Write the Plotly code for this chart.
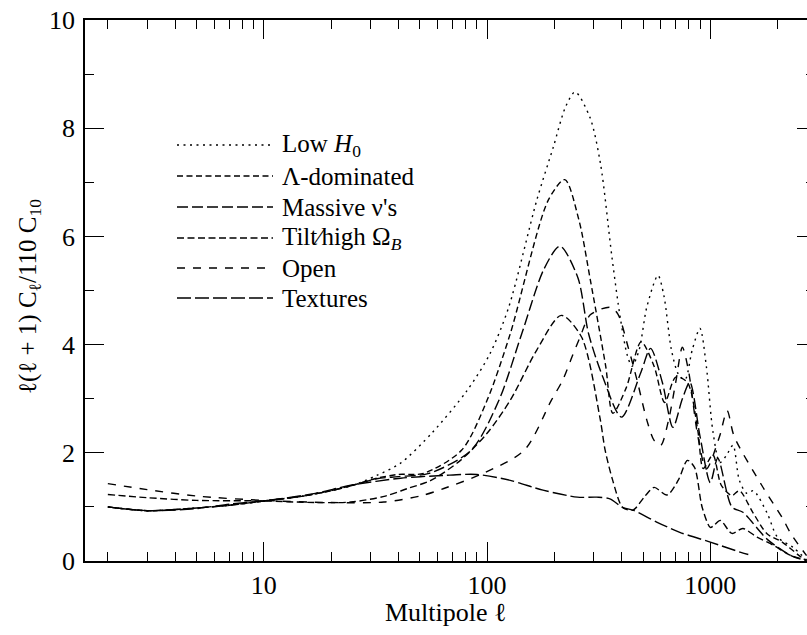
import plotly.graph_objects as go

# multipole values and normalised power
low_h0_l = [2, 3, 5, 7, 10, 15, 20, 25, 32, 41, 57, 81, 103, 125, 167, 198, 225, 248, 289, 322,
            363, 395, 425, 446, 480, 520, 583, 620, 670, 720, 770, 830, 899, 960, 1027, 1104,
            1180, 1264, 1350, 1460, 1560, 1800, 2000, 2350, 2700]
low_h0_v = [1.0, 0.93, 0.98, 1.03, 1.11, 1.2, 1.3, 1.4, 1.58, 1.81, 2.38, 3.14, 3.83, 4.69, 6.67,
            7.65, 8.4, 8.67, 8.2, 7.35, 5.6, 4.5, 3.8, 3.6, 3.9, 4.7, 5.28, 4.9, 3.9, 3.45, 3.35,
            3.9, 4.3, 3.6, 2.4, 1.82, 1.95, 2.14, 1.49, 1.25, 1.3, 0.88, 0.44, 0.25, 0.02]

lambda_l = [2, 3, 5, 7, 10, 15, 20, 25, 32, 40, 52, 77, 100, 127, 188, 223, 258, 290, 340, 366,
            420, 490, 560, 625, 700, 790, 880, 930, 1027, 1120, 1250, 1350, 1550, 1800, 2100,
            2500, 2700]
lambda_v = [1.0, 0.93, 0.98, 1.03, 1.11, 1.2, 1.3, 1.4, 1.53, 1.6, 1.62, 2.05, 2.97, 4.2, 6.67,
            7.05, 6.3, 5.2, 3.6, 2.73, 3.2, 4.05, 3.6, 2.93, 3.4, 3.3, 2.4, 1.71, 1.96, 1.4, 1.21,
            1.3, 0.9, 0.5, 0.35, 0.1, 0.0]

massive_l = [2, 3, 5, 7, 10, 15, 20, 25, 32, 40, 55, 85, 113, 143, 180, 212, 255, 285, 330, 400,
             490, 540, 610, 680, 750, 810, 900, 1000, 1080, 1250, 1400, 1800, 2300, 2700]
massive_v = [1.0, 0.93, 0.98, 1.03, 1.11, 1.2, 1.3, 1.4, 1.52, 1.56, 1.62, 2.05, 2.97, 4.2, 5.4,
             5.82, 5.24, 4.2, 3.4, 2.66, 3.5, 3.93, 3.3, 2.47, 3.0, 3.3, 2.3, 1.45, 1.9, 1.0, 0.9,
             0.4, 0.1, 0.0]

tilt_l = [2, 3, 5, 10, 17, 24.5, 35, 44, 56, 76, 100, 127, 167, 215, 265, 320, 338, 365, 405,
          450, 510, 560, 640, 720, 790, 850, 920, 1000, 1040, 1110, 1250, 1400, 1620, 1900, 2300,
          2700]
tilt_v = [1.23, 1.17, 1.12, 1.11, 1.08, 1.09, 1.2, 1.34, 1.49, 1.86, 2.36, 2.97, 3.9, 4.54, 4.14,
          2.66, 2.05, 1.5, 0.99, 0.94, 1.2, 1.36, 1.22, 1.5, 1.86, 1.73, 0.99, 0.62, 0.66, 0.75,
          0.51, 0.6, 0.44, 0.3, 0.1, 0.02]

open_l = [2, 3, 5, 10, 20, 34.5, 50, 64, 96, 147, 194, 218, 240, 260, 290, 356, 385, 430, 470,
          520, 560, 600, 650, 700, 750, 800, 880, 960, 1100, 1190, 1280, 1700, 2100, 2300, 2700]
open_v = [1.43, 1.32, 1.2, 1.12, 1.08, 1.09, 1.2, 1.34, 1.62, 2.05, 2.97, 3.34, 3.77, 4.12, 4.55,
          4.69, 4.57, 3.93, 3.34, 2.6, 2.23, 2.14, 2.6, 3.3, 3.95, 3.5, 2.3, 1.7, 2.3, 2.78, 2.3,
          1.4, 0.8, 0.5, 0.1]

tex_l = [2, 3, 5, 7, 10, 17, 24.5, 41, 63, 90, 127, 178, 254, 310, 355, 405, 450, 575, 730, 1000,
         1370, 1480]
tex_v = [1.0, 0.93, 0.97, 1.05, 1.11, 1.25, 1.4, 1.53, 1.58, 1.6, 1.49, 1.31, 1.18, 1.18, 1.15,
         0.99, 0.94, 0.72, 0.53, 0.35, 0.16, 0.12]

names = ["Low <i>H</i><sub>0</sub>", "Λ-dominated", "Massive ν's",
         "Tilt⁄high Ω<sub><i>B</i></sub>", "Open", "Textures"]
dashes = ["2px,4.5px", "6px,3.5px", "11px,4px", "7px,3.5px", "8px,8px", "14px,4px"]
series = [(low_h0_l, low_h0_v), (lambda_l, lambda_v), (massive_l, massive_v),
          (tilt_l, tilt_v), (open_l, open_v), (tex_l, tex_v)]

FONT = "Liberation Serif"
W, H = 807, 635
L, R, T, B = 85, 0, 20, 74
pw, ph = W - L - R, H - T - B


def px(x):
    # page pixel -> paper fraction
    return (x - L) / pw


def py(y):
    return (H - B - y) / ph


fig = go.Figure()
for (xs, ys), nm, dsh in zip(series, names, dashes):
    fig.add_trace(go.Scatter(
        x=xs, y=ys, mode="lines", name=nm,
        line=dict(color="black", width=1.4, dash=dsh, shape="spline", smoothing=0.8),
        showlegend=False,
    ))

# hand-made legend (longer line samples than plotly's)
rows = [145, 176, 207, 238, 268, 298]
for nm, dsh, yy in zip(names, dashes, rows):
    fig.add_shape(type="line", xref="paper", yref="paper",
                  x0=px(177), x1=px(273), y0=py(yy), y1=py(yy),
                  line=dict(color="black", width=1.4, dash=dsh))
    fig.add_annotation(text=nm, xref="paper", yref="paper", x=px(280), y=py(yy),
                       xanchor="left", yanchor="middle", showarrow=False,
                       font=dict(family=FONT, size=25, color="black"))

fig.add_annotation(text="Multipole ℓ", xref="paper", yref="paper",
                   x=px(446), y=py(612), xanchor="center", yanchor="middle",
                   showarrow=False, font=dict(family=FONT, size=26, color="black"))
fig.add_annotation(text="ℓ(ℓ + 1) C<sub>ℓ</sub>/110 C<sub>10</sub>", xref="paper",
                   yref="paper", x=px(29), y=py(297), textangle=-90,
                   xanchor="center", yanchor="middle", showarrow=False,
                   font=dict(family=FONT, size=25, color="black"))

minor_x = [2, 3, 4, 5, 6, 7, 8, 9, 20, 30, 40, 50, 60, 70, 80, 90,
           200, 300, 400, 500, 600, 700, 800, 900, 2000]

fig.update_layout(
    width=W, height=H,
    margin=dict(l=L, r=R, t=T, b=B, autoexpand=False),
    paper_bgcolor="white", plot_bgcolor="white",
    font=dict(family=FONT, size=26, color="black"),
    xaxis=dict(type="log", range=[0.1987, 3.4333], showgrid=False, zeroline=False,
               automargin=False,
               showline=True, linecolor="black", linewidth=1.5, mirror="ticks",
               ticks="inside", ticklen=19, tickwidth=1.2, tickcolor="black",
               tickmode="array", tickvals=[10, 100, 1000], ticktext=["10", "100", "1000"],
               ticklabelstandoff=0,
               minor=dict(ticks="inside", ticklen=9, tickwidth=1.2, tickcolor="black",
                          tickmode="array", tickvals=minor_x, showgrid=False)),
    yaxis=dict(range=[0, 10], showgrid=False, zeroline=False, automargin=False,
               showline=True, linecolor="black", linewidth=1.5,
               ticks="inside", ticklen=19, tickwidth=1.2, tickcolor="black",
               tickmode="array", tickvals=[0, 2, 4, 6, 8, 10],
               ticklabelstandoff=3,
               minor=dict(ticks="inside", ticklen=9, tickwidth=1.2, tickcolor="black",
                          tickmode="array", tickvals=[1, 3, 5, 7, 9], showgrid=False)),
    yaxis2=dict(range=[0, 10], overlaying="y", side="right", showgrid=False,
                zeroline=False, showline=False, showticklabels=False, automargin=False,
                ticks="inside", ticklen=10, tickwidth=1.2, tickcolor="black",
                tickmode="array", tickvals=[2, 4, 6, 8],
                minor=dict(ticks="inside", ticklen=1, tickwidth=1.2, tickcolor="black",
                           tickmode="array", tickvals=[1, 3, 5, 7, 9])),
)
# dummy trace so the right-hand tick stubs get drawn
fig.add_trace(go.Scatter(x=[], y=[], yaxis="y2", showlegend=False))

# drop the browser's default body margin so the figure sits at the page corner
fig.write_html("out.html", config={"displayModeBar": False},
               post_script="document.body.style.margin='0';"
                           "document.body.style.overflow='hidden';")
